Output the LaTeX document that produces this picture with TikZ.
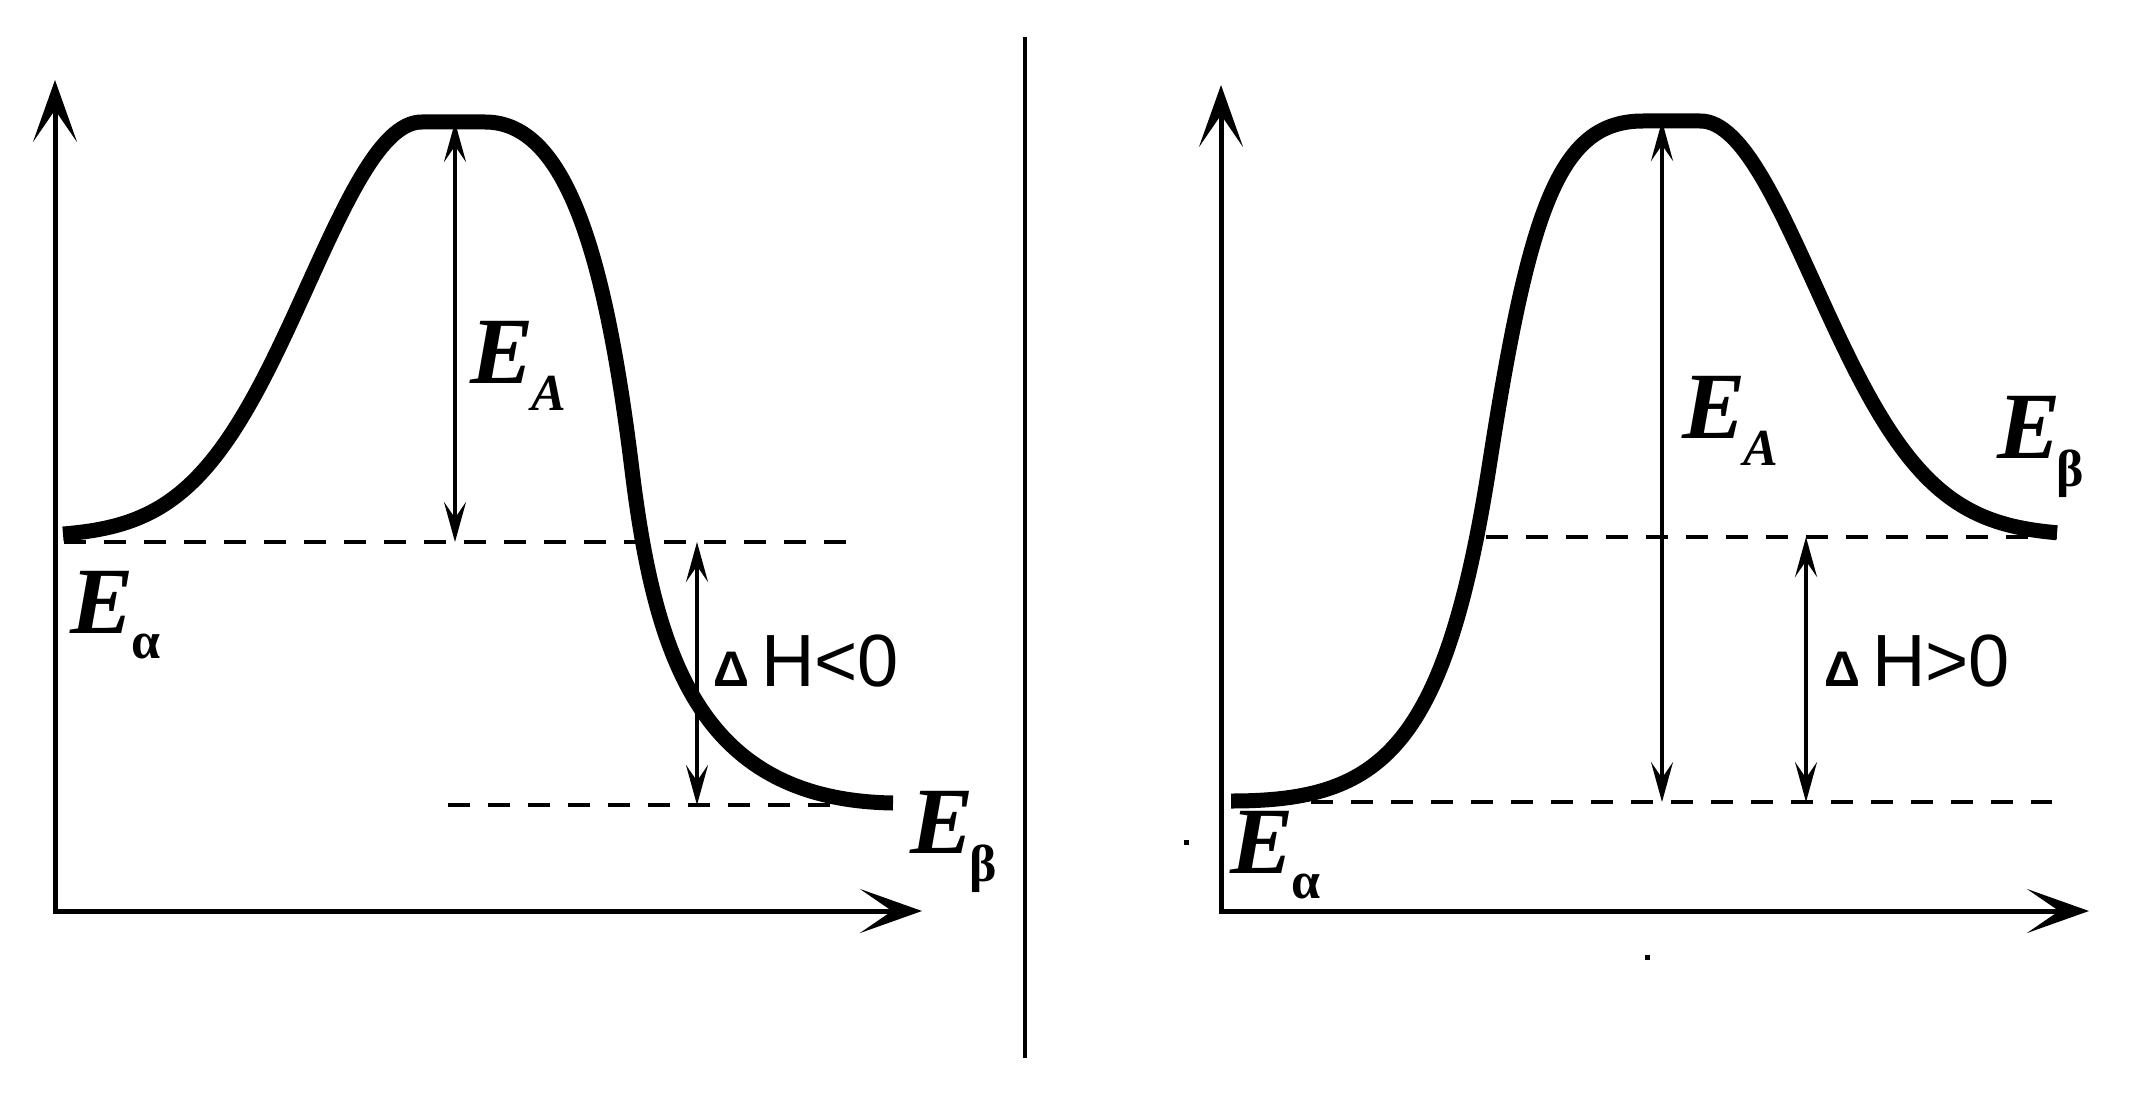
\documentclass[tikz,border=0pt]{standalone}
\usepackage{fontspec}
\setmainfont{Liberation Serif}
\newfontfamily\sansf{Liberation Sans}
\usetikzlibrary{arrows.meta}
\begin{document}
\begin{tikzpicture}[x=1pt,y=-1pt,
  axes/.style={line width=5pt,line join=miter,
    {Stealth[length=62pt,width=44pt,inset=32pt]}-{Stealth[length=62pt,width=44pt,inset=32pt]}},
  curve/.style={line width=15pt,line join=round},
  dline/.style={line width=4.5pt,dash pattern=on 22pt off 18pt},
  dimarrow/.style={line width=4pt,
    {Stealth[length=40pt,width=22pt,inset=16pt]}-{Stealth[length=40pt,width=22pt,inset=16pt]}},
  elab/.style={inner sep=0pt,anchor=base west,font=\fontsize{95}{95}\selectfont\bfseries\itshape},
  hlab/.style={inner sep=0pt,anchor=base west,font=\fontsize{74}{74}\selectfont\sansf},
  speck/.style={fill=black}
]
\useasboundingbox (0,0) rectangle (2135,1099);
\fill[white] (0,0) rectangle (2135,1099);

% ---------- left panel ----------
\coordinate (lo) at (55,911);
\coordinate (ly) at (55,80);
\coordinate (lx) at (922,911);
\draw[axes] (ly) -- (lo) -- (lx);

\draw[curve] plot[domain=63:422,samples=90] (\x,{537-415*exp(-((422-\x)/161.5)^2)})
  -- (485,122) .. controls (565,122) and (605,250) .. (632,470)
  .. controls (655,657) and (700,800) .. (893,803);

\coordinate (lul) at (64,542);
\coordinate (lur) at (862,542);
\coordinate (lll) at (448,805);
\coordinate (llr) at (893,805);
\draw[dline] (lul) -- (lur);
\draw[dline] (lll) -- (llr);

\coordinate (lpk) at (455,122);
\coordinate (lpb) at (455,542);
\draw[dimarrow] (lpk) -- (lpb);
\coordinate (lht) at (697,542);
\coordinate (lhb) at (697,805);
\draw[dimarrow] (lht) -- (lhb);

\node[elab] (lea) at (70,633) {E\kern-2pt\raisebox{-25pt}{\fontsize{52}{52}\selectfont\upshape α}};
\node[elab] (leA) at (470,383) {E\kern-2pt\raisebox{-27pt}{\fontsize{52}{52}\selectfont A}};
\node[elab] (leb) at (910,853) {E\kern-4pt\raisebox{-28pt}{\fontsize{52}{52}\selectfont\upshape β}};
\node[hlab] (ldh) at (713,686) {{\fontsize{50}{50}\selectfont\bfseries Δ}\kern12pt H<0};

% ---------- divider ----------
\coordinate (dt) at (1025,37);
\coordinate (db) at (1025,1058);
\draw[line width=4pt] (dt) -- (db);

% ---------- right panel ----------
\coordinate (ro) at (1221,911);
\coordinate (ry) at (1221,85);
\coordinate (rx) at (2089,911);
\draw[axes] (ry) -- (ro) -- (rx);

\draw[curve] (1231,801) .. controls (1380,801) and (1445,752) .. (1490,461)
  .. controls (1530,205) and (1560,121) .. (1643,121)
  -- (1700,121)
  plot[domain=1700:2057,samples=90] (\x,{121+415*(1-exp(-((\x-1700)/162)^2))});

\coordinate (rul) at (1486,537);
\coordinate (rur) at (2057,537);
\coordinate (rll) at (1231,802);
\coordinate (rlr) at (2052,802);
\draw[dline] (rul) -- (rur);
\draw[dline] (rll) -- (rlr);

\coordinate (rpk) at (1662,121);
\coordinate (rpb) at (1662,802);
\draw[dimarrow] (rpk) -- (rpb);
\coordinate (rht) at (1806,537);
\coordinate (rhb) at (1806,802);
\draw[dimarrow] (rht) -- (rhb);

\node[elab] (rea) at (1230,873) {E\kern-2pt\raisebox{-25pt}{\fontsize{52}{52}\selectfont\upshape α}};
\node[elab] (reA) at (1682,438) {E\kern-2pt\raisebox{-27pt}{\fontsize{52}{52}\selectfont A}};
\node[elab] (reb) at (1997,458) {E\kern-4pt\raisebox{-28pt}{\fontsize{52}{52}\selectfont\upshape β}};
\node[hlab] (rdh) at (1824,686) {{\fontsize{50}{50}\selectfont\bfseries Δ}\kern12pt H>0};

% stray specks
\fill[speck] (1184,840) rectangle (1189,845);
\fill[speck] (1645,955) rectangle (1650,960);
\end{tikzpicture}
\end{document}
